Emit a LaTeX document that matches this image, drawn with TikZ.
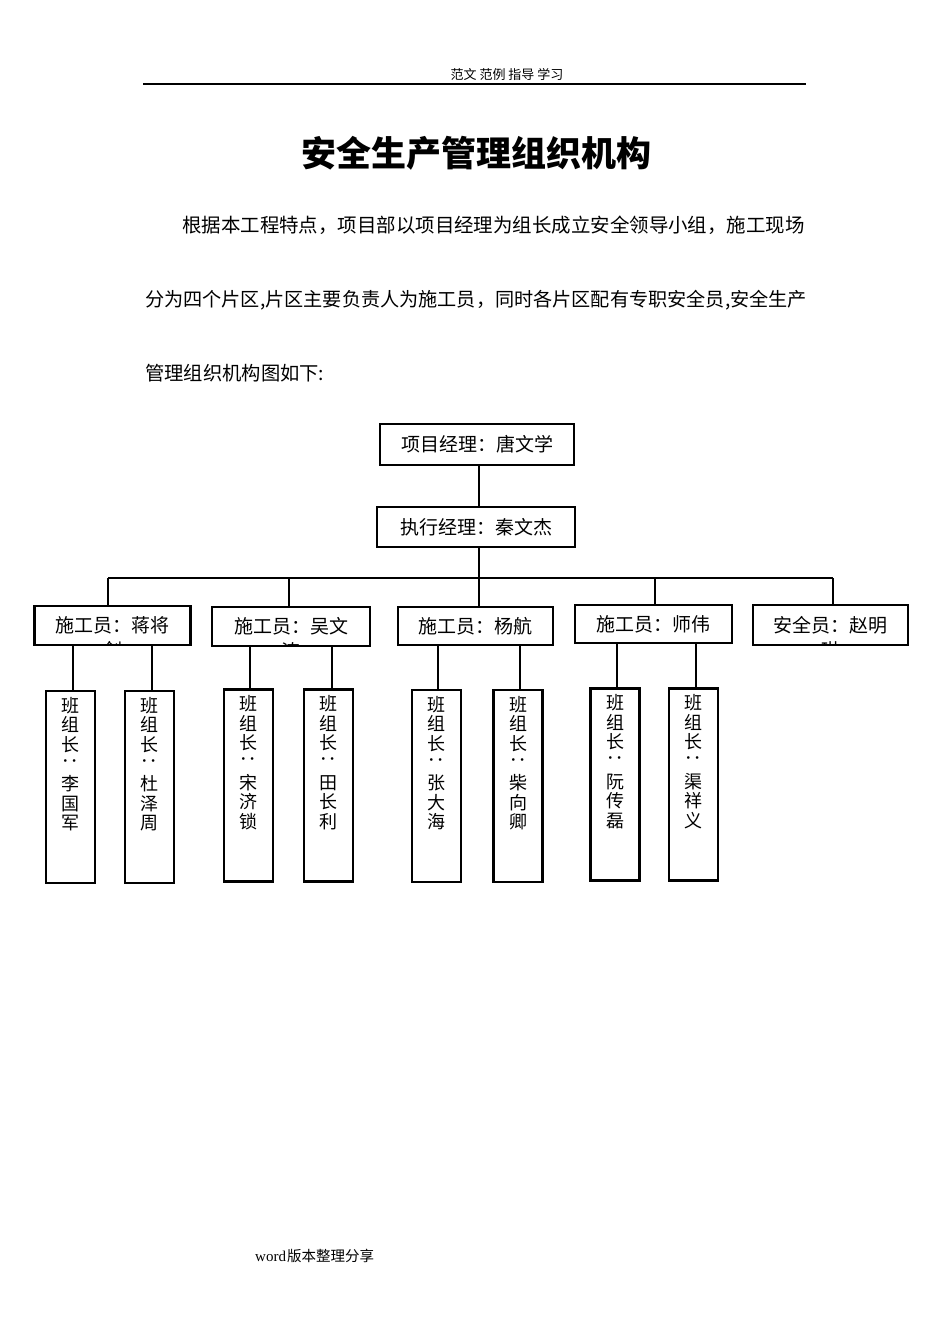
\documentclass[tikz,border=0pt]{standalone}
\usepackage{graphicx}
\usepackage{fontspec}
\newfontfamily\cjk{Noto Sans CJK SC}
\newfontfamily\serifw{Liberation Serif}
\newcommand\vcolon{\rotatebox[origin=c]{-90}{：}}
\begin{document}
\begin{tikzpicture}[x=1pt,y=-1pt,
  box/.style={draw, line width=2.3pt, inner sep=0pt, font=\cjk\fontsize{19}{22}\selectfont},
  tl/.style={draw, line width=2.3pt, minimum width=49pt, minimum height=192pt, inner sep=0pt},
  tltext/.style={anchor=north, inner sep=0pt, align=center, font=\cjk\fontsize{18}{19.6}\selectfont},
  conn/.style={line width=1.8pt},
  cliptext/.style={inner sep=0pt, font=\cjk\fontsize{19}{22}\selectfont},
  para/.style={anchor=west, inner sep=0pt}]
\useasboundingbox (0,0) rectangle (950,1344);
\fill[white] (0,0) rectangle (950,1344);

% header
\node[inner sep=0pt, font=\cjk\fontsize{13}{15}\selectfont] (hdr) at (507,75) {范文 范例 指导 学习};
\coordinate (hl) at (143,84);
\coordinate (hr) at (806,84);
\draw[line width=1.5pt] (hl) -- (hr);

% title
\node[inner sep=0pt, font=\cjk\bfseries\fontsize{35}{40}\selectfont] (title) at (476,153) {安全生产管理组织机构};

% paragraph
\node[para, font=\cjk\fontsize{19.45}{24}\selectfont] (p1) at (182,225) {根据本工程特点，项目部以项目经理为组长成立安全领导小组，施工现场};
\node[para, font=\cjk\fontsize{19.15}{24}\selectfont] (p2) at (145,300) {分为四个片区,片区主要负责人为施工员，同时各片区配有专职安全员,安全生产};
\node[para, font=\cjk\fontsize{19.3}{24}\selectfont] (p3) at (145,373) {管理组织机构图如下:};

% top boxes
\node[box, minimum width=194pt, minimum height=41pt] (pm) at (477,444.5) {项目经理：唐文学};
\node[box, minimum width=198pt, minimum height=40pt] (ex) at (476,527) {执行经理：秦文杰};

\coordinate (c0) at (479,0);
\draw[conn] (pm.south -| c0) -- (ex.north -| c0);
\coordinate (busL) at (108,578);
\coordinate (busR) at (833,578);
\draw[conn] (ex.south -| c0) -- (c0 |- busL);
\draw[conn] (busL) -- (busR);

% supervisor boxes
\node[box, minimum width=156pt, minimum height=39pt] (S1) at (112.5,625.5) {施工员：蒋将};
\node[box, minimum width=158pt, minimum height=39pt] (S2) at (291,626.5) {施工员：吴文};
\node[box, minimum width=155pt, minimum height=38pt] (S3) at (475.5,626) {施工员：杨航};
\node[box, minimum width=157pt, minimum height=38pt] (S4) at (653.5,624) {施工员：师伟};
\node[box, minimum width=155pt, minimum height=40pt] (S5) at (830.5,625) {安全员：赵明};

\foreach \s/\x in {S1/108,S2/289,S3/479,S4/655,S5/833}{
  \coordinate (d\s) at (\x,0);
  \draw[conn] (d\s |- busL) -- (\s.north -| d\s);
}

% clipped overflow lines
\foreach \s/\t in {S1/剑,S2/涛,S5/琳}{
  \begin{scope}
    \clip ([shift={(1.6pt,1.6pt)}]\s.south west) rectangle ([shift={(-1.6pt,-1.6pt)}]\s.north east);
    \node[cliptext] at ([yshift=-25pt]\s.center) {\t};
  \end{scope}
}

% team leader boxes
\foreach \n/\cx/\cy/\dx/\pa/\na/\nb/\nc in {
  T1/70.5/787/73/S1/李/国/军,
  T2/149.5/787/152/S1/杜/泽/周,
  T3/248.5/785.5/250/S2/宋/济/锁,
  T4/328.5/785.5/332/S2/田/长/利,
  T5/436.5/786/438/S3/张/大/海,
  T6/518/786/520/S3/柴/向/卿,
  T7/615/784.5/617/S4/阮/传/磊,
  T8/693.5/784.5/696/S4/渠/祥/义}{
  \node[tl] (\n) at (\cx,\cy) {};
  \node[tltext] (\n t) at ([yshift=-7pt]\n.north) {班\\组\\长\\\vcolon\\\na\\\nb\\\nc};
  \coordinate (e\n) at (\dx,0);
  \draw[conn] (\pa.south -| e\n) -- (\n.north -| e\n);
}

% footer
\node[anchor=west, inner sep=0pt] (ftr) at (255,1256) {{\serifw\fontsize{15}{18}\selectfont word}\hspace{1pt}{\cjk\fontsize{14.5}{18}\selectfont 版本整理分享}};
\end{tikzpicture}
\end{document}
